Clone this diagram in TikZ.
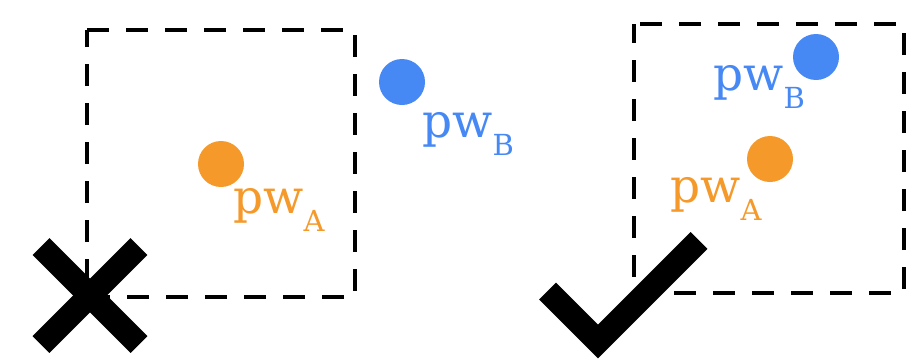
\documentclass[tikz,border=0pt]{standalone}
\usepackage{fontspec}
\setmainfont{DejaVu Serif}
\usetikzlibrary{calc}
\begin{document}
\definecolor{dotorange}{HTML}{F4992A}
\definecolor{dotblue}{HTML}{4688F4}
\begin{tikzpicture}[x=1pt,y=-1pt,
  region/.style={draw=black,line width=4.5pt,dash pattern=on 22pt off 17pt},
  pt/.style={circle,inner sep=0pt,minimum size=46pt},
  lbl/.style={anchor=base west,inner sep=0pt,font=\fontsize{47}{47}\selectfont},
  heavystroke/.style={draw=black,line width=24pt}
]
\newcommand{\sublbl}[1]{\raisebox{-18.5pt}{\fontsize{29}{29}\selectfont #1}}
\useasboundingbox (0,0) rectangle (920,359);

% left panel: both points, only one inside the window
\draw[region] (87,30) -- (355,30) -- (355,297) -- (87,297) -- cycle;
\node[pt,fill=dotorange] (la) at (221,164) {};
\node[pt,fill=dotblue] (lb) at (402,82) {};
\node[lbl,text=dotorange] (lal) at (233,213) {pw\sublbl{A}};
\node[lbl,text=dotblue] (lbl) at (422,137) {pw\sublbl{B}};

% cross
\coordinate (xc) at (90,295.5);
\draw[heavystroke] ($(xc)+(-49,-49)$) -- ($(xc)+(49,49)$);
\draw[heavystroke] ($(xc)+(-49,49)$) -- ($(xc)+(49,-49)$);

% right panel: both points inside the window
\draw[region,dash phase=3pt] (634,24) -- (634,293) -- (904,293) -- (904,24) -- cycle;
\node[pt,fill=dotblue] (rb) at (816,57) {};
\node[pt,fill=dotorange] (ra) at (770,159) {};
\node[lbl,text=dotblue] (rbl) at (713,90) {pw\sublbl{B}};
\node[lbl,text=dotorange] (ral) at (670,202) {pw\sublbl{A}};

% check mark
\coordinate (c1) at (547.5,291);
\coordinate (c2) at (598,341.5);
\coordinate (c3) at (699,240.5);
\draw[heavystroke,miter limit=4] (c1) -- (c2) -- (c3);
\end{tikzpicture}
\end{document}
